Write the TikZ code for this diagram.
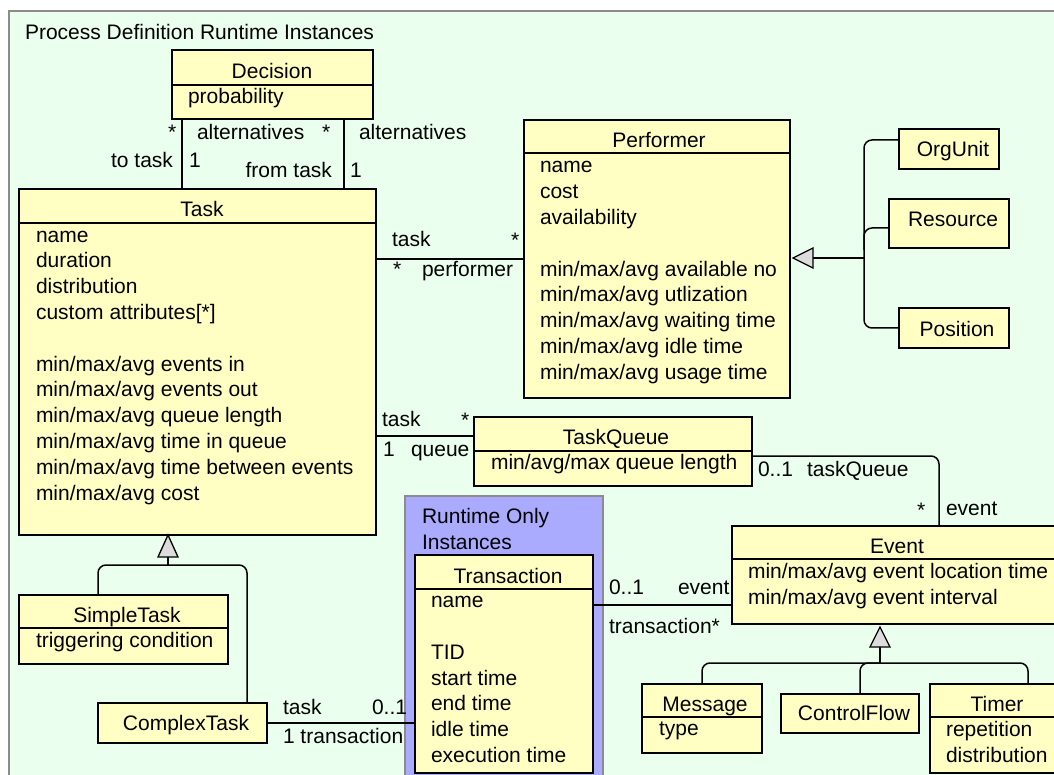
\documentclass[tikz,border=0pt]{standalone}
\usepackage{fontspec}
\setmainfont{Liberation Sans}
\definecolor{bggreen}{HTML}{EAFFEE}
\definecolor{clsfill}{HTML}{FFFFC4}
\definecolor{pkgblue}{HTML}{AAAAFF}
\definecolor{framegray}{HTML}{8C8C8C}
\definecolor{tipgray}{HTML}{DCDCDC}
\begin{document}
\begin{tikzpicture}[x=1pt,y=-1pt,
  every node/.style={font=\fontsize{21}{25.8}\selectfont, inner sep=0pt, outer sep=0pt},
  cls/.style={draw=black, line width=1.6pt, fill=clsfill, anchor=north west},
  divider/.style={draw=black, line width=1.6pt},
  title/.style={anchor=base},
  % multi-line attribute lists are placed by the baseline of their last line
  attrs/.style={anchor=base west, align=left},
  lbl/.style={anchor=base west},
  lblr/.style={anchor=base east},
  assoc/.style={draw=black, line width=1.5pt},
  gen/.style={draw=black, line width=1.5pt, rounded corners=8pt},
  gentip/.style={draw=black, line width=1.3pt, fill=tipgray, line join=miter}
]
\useasboundingbox (0,0) rectangle (1054,775);
\clip (0,0) rectangle (1054,775);
\fill[white] (0,0) rectangle (1054,775);

% outer package frame
\draw[fill=bggreen, draw=framegray, line width=2pt] (9,11) rectangle (1080,800);
\node[lbl] (pkgtitle) at (25,40) {Process Definition Runtime Instances};

% runtime-only package
\draw[fill=pkgblue, draw=framegray, line width=1.5pt] (405,496) rectangle (603,800);
\node[lbl] (rt1) at (422,523) {Runtime Only};
\node[lbl] (rt2) at (422,549) {Instances};

% ---------- classes ----------
% Decision
\node[cls, minimum width=201pt, minimum height=69pt] (dec) at (172,50) {};
\draw[divider] (dec.west |- 0,85) -- (dec.east |- 0,85);
\node[title] (dec-t) at (272,79) {Decision};
\node[attrs] (dec-a) at (188,104) {probability};

% Task
\node[cls, minimum width=357pt, minimum height=346pt] (task) at (19,189) {};
\draw[divider] (task.west |- 0,223) -- (task.east |- 0,223);
\node[title] (task-t) at (202,216.5) {Task};
\node[attrs] (task-a) at (36,500) {name\\duration\\distribution\\custom attributes[*]\\[25.8pt]
  min/max/avg events in\\min/max/avg events out\\min/max/avg queue length\\
  min/max/avg time in queue\\min/max/avg time between events\\min/max/avg cost};

% Performer
\node[cls, minimum width=266pt, minimum height=278pt] (perf) at (524,120) {};
\draw[divider] (perf.west |- 0,153) -- (perf.east |- 0,153);
\node[title] (perf-t) at (659,148) {Performer};
\node[attrs] (perf-a) at (540,379.4) {name\\cost\\availability\\[25.8pt]
  min/max/avg available no\\min/max/avg utlization\\min/max/avg waiting time\\
  min/max/avg idle time\\min/max/avg usage time};

% Performer subclasses
\node[cls, minimum width=100pt, minimum height=40pt] (org) at (899,129) {};
\node[title] (org-t) at (953,157) {OrgUnit};
\node[cls, minimum width=120pt, minimum height=49pt] (res) at (889,199) {};
\node[title] (res-t) at (953,227) {Resource};
\node[cls, minimum width=110pt, minimum height=40pt] (pos) at (899,308) {};
\node[title] (pos-t) at (957,336) {Position};

% TaskQueue
\node[cls, minimum width=278pt, minimum height=69pt] (tq) at (474,417) {};
\draw[divider] (tq.west |- 0,451) -- (tq.east |- 0,451);
\node[title] (tq-t) at (616,444) {TaskQueue};
\node[attrs] (tq-a) at (491,469.5) {min/avg/max queue length};

% Transaction
\node[cls, minimum width=178pt, minimum height=218pt] (tr) at (415,555) {};
\draw[divider] (tr.west |- 0,589) -- (tr.east |- 0,589);
\node[title] (tr-t) at (508,583) {Transaction};
\node[attrs] (tr-a) at (431,762.5) {name\\[25.8pt]TID\\start time\\end time\\idle time\\execution time};

% Event
\node[cls, minimum width=340pt, minimum height=98pt] (ev) at (732,526) {};
\draw[divider] (ev.west |- 0,559) -- (ev.east |- 0,559);
\node[title] (ev-t) at (897,553) {Event};
\node[attrs] (ev-a) at (748,604.1) {min/max/avg event location time\\min/max/avg event interval};

% Event subclasses
\node[cls, minimum width=120pt, minimum height=69pt] (msg) at (642,684) {};
\draw[divider] (msg.west |- 0,717) -- (msg.east |- 0,717);
\node[title] (msg-t) at (705,711) {Message};
\node[attrs] (msg-a) at (659,735) {type};
\node[cls, minimum width=138pt, minimum height=39pt] (cf) at (781,694) {};
\node[title] (cf-t) at (854,720.7) {ControlFlow};
\node[cls, minimum width=140pt, minimum height=89pt] (tim) at (930,684) {};
\draw[divider] (tim.west |- 0,717) -- (tim.east |- 0,717);
\node[title] (tim-t) at (997,711) {Timer};
\node[attrs] (tim-a) at (946,762.3) {repetition\\distribution};

% Task subclasses
\node[cls, minimum width=209pt, minimum height=69pt] (st) at (19,595) {};
\draw[divider] (st.west |- 0,628) -- (st.east |- 0,628);
\node[title] (st-t) at (127,622) {SimpleTask};
\node[attrs] (st-a) at (36,647.3) {triggering condition};
\node[cls, minimum width=169pt, minimum height=40pt] (ct) at (98,703) {};
\node[title] (ct-t) at (186,730.7) {ComplexTask};

% ---------- associations ----------
% Decision -- Task
\draw[assoc] (dec.south -| 182,0) -- (task.north -| 182,0);
\draw[assoc] (dec.south -| 344,0) -- (task.north -| 344,0);
\node[lbl] (m1) at (168,140) {*};
\node[lbl] (r1) at (197,140) {alternatives};
\node[lbl] (m2) at (322,140) {*};
\node[lbl] (r2) at (359,140) {alternatives};
\node[lblr] (r3) at (173,168) {to task};
\node[lbl] (m3) at (189,168) {1};
\node[lblr] (r4) at (332,178) {from task};
\node[lbl] (m4) at (350,178) {1};

% Task -- Performer
\draw[assoc] (perf.west) -- (perf.west -| task.east);
\node[lbl] (r5) at (392,247) {task};
\node[lbl] (m5) at (511,248) {*};
\node[lbl] (m6) at (393,277) {*};
\node[lbl] (r6) at (422,277) {performer};

% Task -- TaskQueue
\draw[assoc] (tq.west |- 0,436) -- (task.east |- 0,436);
\node[lbl] (r7) at (382,426.7) {task};
\node[lbl] (m7) at (461,427) {*};
\node[lbl] (m8) at (383,456.7) {1};
\node[lbl] (r8) at (411,456.7) {queue};

% TaskQueue -- Event
\draw[assoc, rounded corners=8pt] (tq.east |- 0,456) -- (939,456) -- (ev.north -| 939,0);
\node[lbl] (m9) at (758,476) {0..1};
\node[lbl] (r9) at (807,476) {taskQueue};
\node[lbl] (m10) at (917,517) {*};
\node[lbl] (r10) at (946,515) {event};

% Transaction -- Event
\draw[assoc] (tr.east |- 0,605) -- (ev.west |- 0,605);
\node[lbl] (m11) at (609,594) {0..1};
\node[lbl] (r11) at (678,594) {event};
\node[lbl] (r12) at (609,633) {transaction*};

% ComplexTask -- Transaction
\draw[assoc] (ct.east) -- (ct.east -| tr.west);
\node[lbl] (r13) at (283,714) {task};
\node[lbl] (m13) at (372,714) {0..1};
\node[lbl] (r14) at (283,743) {1 transaction};

% ---------- generalizations ----------
% Performer
\draw[gen] (org.west |- 0,140) -- (864,140) -- (864,328) -- (pos.west |- 0,328);
\draw[gen] (res.west |- 0,228) -- (864,228) -- (864,250);
\draw[assoc] (864,258) -- (813,258);
\draw[gentip] (perf.east |- 0,258) ++(3,0) -- (813,248) -- (813,268) -- cycle;

% Task
\draw[gen] (st.north -| 98,0) -- (98,565) -- (247,565) -- (ct.north -| 247,0);
\draw[assoc] (168,557) -- (168,565);
\draw[gentip] (task.south -| 168,0) -- (178,557) -- (158,557) -- cycle;

% Event
\draw[gen] (msg.north -| 702,0) -- (702,663) -- (1028,663) -- (tim.north -| 1028,0);
\draw[gen] (cf.north -| 860,0) -- (860,663) -- (880,663);
\draw[assoc] (880,647) -- (880,663);
\draw[gentip] (ev.south -| 880,0) ++(0,3) -- (890,647) -- (870,647) -- cycle;
\end{tikzpicture}
\end{document}
